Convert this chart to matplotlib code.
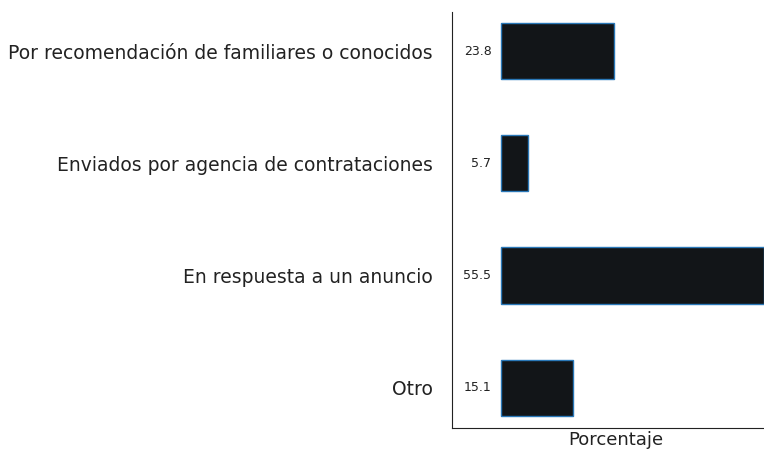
import matplotlib.pyplot as plt

categories = ['Por recomendación de familiares o conocidos',
              'Enviados por agencia de contrataciones',
              'En respuesta a un anuncio',
              'Otro']
values = [23.8, 5.7, 55.5, 15.1]

plt.rcParams['font.family'] = ['DejaVu Sans']

fig = plt.figure(figsize=(7.64, 4.54), dpi=100)
ax = fig.add_axes([452/764, 26/454, 328/764, 416/454])

pos = list(range(len(categories)))
ax.barh(pos, values, height=0.5, color='#121518', edgecolor='#2a78b8', linewidth=1)
ax.set_ylim(3.36, -0.35)
ax.set_xlim(-10.3, 58.8)

for p, v in zip(pos, values):
    ax.text(-2.0, p, f'{v}', ha='right', va='center', fontsize=9, color='#222222')

ax.set_yticks(pos)
ax.set_yticklabels(categories, fontsize=13.5, color='#222222')
ax.tick_params(axis='y', length=0, pad=14)
ax.set_xticks([])
ax.set_xlabel('Porcentaje', fontsize=13, color='#222222', labelpad=2)
for s in ['top', 'right']:
    ax.spines[s].set_visible(False)
ax.spines['left'].set_color('#222222')
ax.spines['bottom'].set_color('#222222')

fig.savefig('out.png', dpi=100)
